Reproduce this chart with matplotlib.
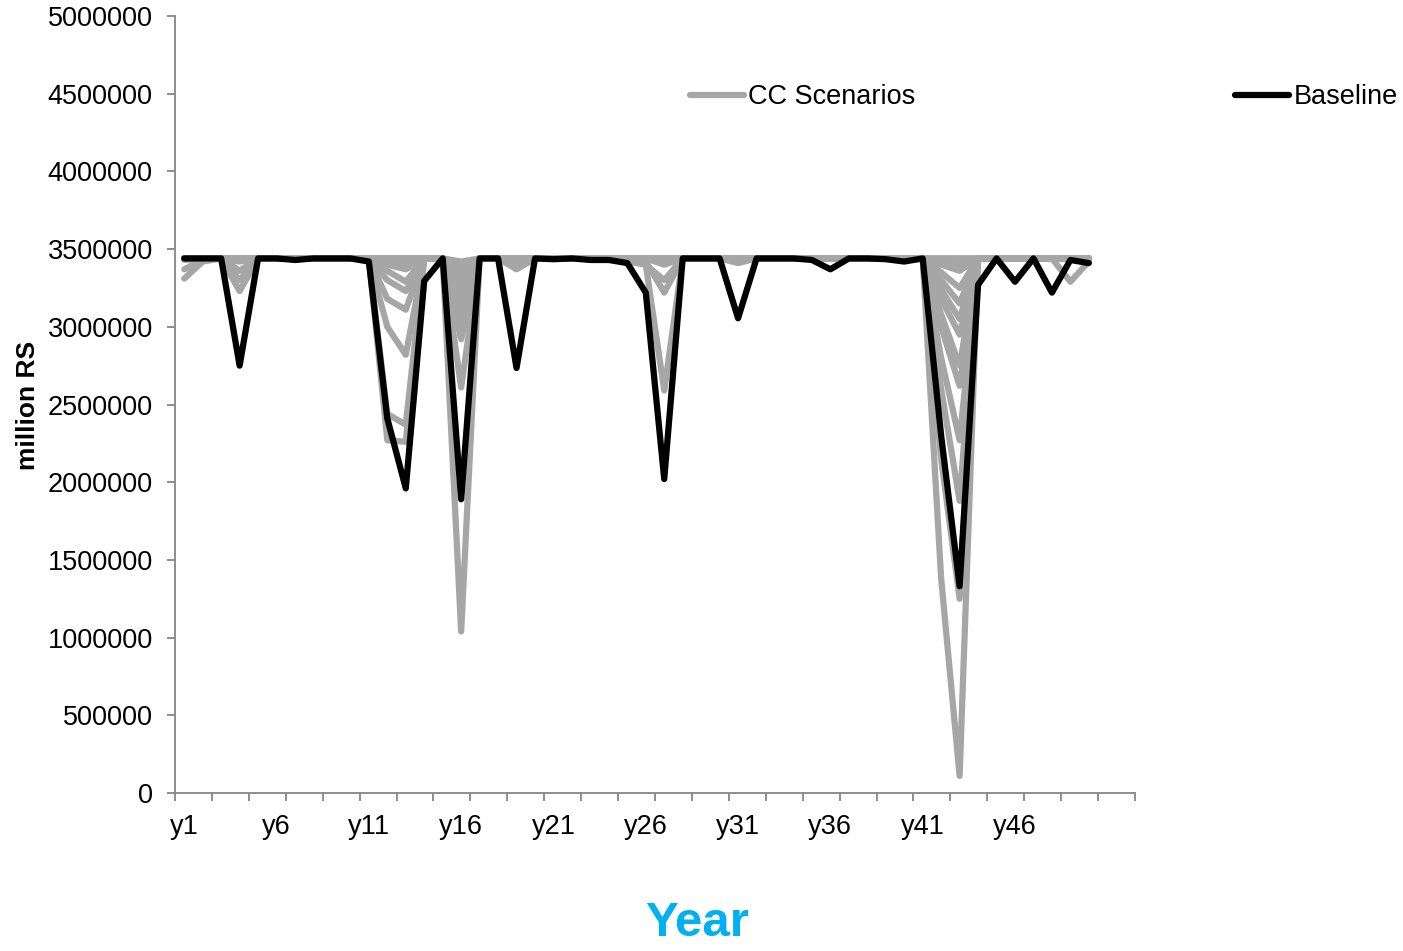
import matplotlib
matplotlib.use("Agg")
import matplotlib.pyplot as plt
from matplotlib.lines import Line2D

plt.rcParams['font.family'] = ['Liberation Sans', 'DejaVu Sans']

years = ["y%d" % i for i in range(1, 51)]
n_categories = 52
tick_label_years = ["y1", "y6", "y11", "y16", "y21", "y26", "y31", "y36", "y41", "y46"]

baseline = [
    3440000, 3440000, 3440000, 2750000, 3440000, 3440000, 3430000, 3440000, 3440000, 3440000,
    3420000, 2410000, 1960000, 3295000, 3440000, 1890000, 3440000, 3440000, 2735000, 3440000,
    3435000, 3440000, 3430000, 3430000, 3410000, 3220000, 2020000, 3440000, 3440000, 3440000,
    3055000, 3440000, 3440000, 3440000, 3430000, 3370000, 3440000, 3440000, 3435000, 3420000,
    3440000, 2300000, 1330000, 3270000, 3440000, 3290000, 3440000, 3220000, 3430000, 3410000,
]

cc_s1 = [
    3440000, 3440000, 3440000, 3440000, 3440000, 3440000, 3440000, 3440000, 3440000, 3440000,
    3440000, 3420000, 3400000, 3440000, 3440000, 3380000, 3440000, 3440000, 3440000, 3440000,
    3440000, 3440000, 3440000, 3440000, 3440000, 3440000, 3440000, 3440000, 3440000, 3440000,
    3440000, 3440000, 3440000, 3440000, 3440000, 3440000, 3440000, 3440000, 3440000, 3440000,
    3440000, 1380000, 110000, 3440000, 3440000, 3440000, 3440000, 3440000, 3440000, 3430000,
]
cc_s2 = [
    3310000, 3420000, 3440000, 3230000, 3440000, 3440000, 3440000, 3440000, 3440000, 3440000,
    3440000, 2270000, 2260000, 3440000, 3440000, 1040000, 3440000, 3440000, 3440000, 3440000,
    3440000, 3440000, 3440000, 3440000, 3430000, 3400000, 3300000, 3440000, 3440000, 3440000,
    3440000, 3440000, 3440000, 3440000, 3440000, 3440000, 3440000, 3440000, 3440000, 3440000,
    3440000, 2150000, 1250000, 3440000, 3440000, 3440000, 3440000, 3440000, 3440000, 3420000,
]
cc_s3 = [
    3370000, 3430000, 3440000, 3300000, 3440000, 3440000, 3440000, 3440000, 3440000, 3440000,
    3440000, 2440000, 2370000, 3440000, 3440000, 2610000, 3440000, 3440000, 3440000, 3440000,
    3440000, 3440000, 3440000, 3440000, 3420000, 3400000, 2590000, 3440000, 3440000, 3440000,
    3440000, 3440000, 3440000, 3440000, 3440000, 3440000, 3440000, 3440000, 3440000, 3440000,
    3440000, 2600000, 1880000, 3440000, 3440000, 3440000, 3440000, 3440000, 3440000, 3440000,
]
cc_s4 = [
    3440000, 3440000, 3440000, 3360000, 3440000, 3440000, 3440000, 3440000, 3440000, 3440000,
    3440000, 3000000, 2820000, 3440000, 3440000, 2920000, 3440000, 3440000, 3370000, 3440000,
    3440000, 3440000, 3440000, 3440000, 3440000, 3420000, 3220000, 3440000, 3440000, 3440000,
    3410000, 3440000, 3440000, 3440000, 3440000, 3440000, 3440000, 3440000, 3440000, 3440000,
    3440000, 2800000, 2270000, 3440000, 3440000, 3440000, 3440000, 3440000, 3440000, 3440000,
]
cc_s5 = [
    3440000, 3440000, 3440000, 3420000, 3440000, 3440000, 3440000, 3440000, 3440000, 3440000,
    3440000, 3180000, 3110000, 3440000, 3440000, 2980000, 3440000, 3440000, 3440000, 3440000,
    3440000, 3440000, 3440000, 3440000, 3440000, 3440000, 3400000, 3440000, 3440000, 3440000,
    3440000, 3440000, 3440000, 3440000, 3440000, 3440000, 3440000, 3440000, 3440000, 3440000,
    3440000, 3000000, 2620000, 3440000, 3440000, 3440000, 3440000, 3440000, 3290000, 3420000,
]
cc_s6 = [
    3440000, 3440000, 3440000, 3440000, 3440000, 3440000, 3440000, 3440000, 3440000, 3440000,
    3440000, 3300000, 3230000, 3440000, 3440000, 3040000, 3440000, 3440000, 3440000, 3440000,
    3440000, 3440000, 3440000, 3440000, 3440000, 3440000, 3440000, 3440000, 3440000, 3440000,
    3440000, 3440000, 3440000, 3440000, 3440000, 3440000, 3440000, 3440000, 3440000, 3440000,
    3440000, 3080000, 2750000, 3440000, 3440000, 3440000, 3440000, 3440000, 3440000, 3440000,
]
cc_s7 = [
    3440000, 3440000, 3440000, 3440000, 3440000, 3440000, 3440000, 3440000, 3440000, 3440000,
    3440000, 3360000, 3290000, 3440000, 3440000, 3100000, 3440000, 3440000, 3400000, 3440000,
    3440000, 3440000, 3440000, 3440000, 3440000, 3440000, 3440000, 3440000, 3440000, 3440000,
    3440000, 3440000, 3440000, 3440000, 3440000, 3440000, 3440000, 3440000, 3440000, 3440000,
    3440000, 3180000, 2950000, 3440000, 3440000, 3440000, 3440000, 3440000, 3440000, 3440000,
]
cc_s8 = [
    3440000, 3440000, 3440000, 3440000, 3440000, 3440000, 3440000, 3440000, 3440000, 3440000,
    3440000, 3400000, 3370000, 3440000, 3440000, 3160000, 3440000, 3440000, 3440000, 3440000,
    3440000, 3440000, 3440000, 3440000, 3440000, 3440000, 3440000, 3440000, 3440000, 3440000,
    3440000, 3440000, 3440000, 3440000, 3440000, 3440000, 3440000, 3440000, 3440000, 3440000,
    3440000, 3240000, 3050000, 3440000, 3440000, 3440000, 3440000, 3440000, 3440000, 3440000,
]
cc_s9 = [
    3440000, 3440000, 3440000, 3440000, 3440000, 3440000, 3440000, 3440000, 3440000, 3440000,
    3440000, 3440000, 3420000, 3440000, 3440000, 3220000, 3440000, 3440000, 3440000, 3440000,
    3440000, 3440000, 3440000, 3440000, 3440000, 3440000, 3440000, 3440000, 3440000, 3440000,
    3440000, 3440000, 3440000, 3440000, 3440000, 3440000, 3440000, 3440000, 3440000, 3440000,
    3440000, 3300000, 3150000, 3440000, 3440000, 3440000, 3440000, 3440000, 3440000, 3440000,
]
cc_s10 = [
    3440000, 3440000, 3440000, 3440000, 3440000, 3440000, 3440000, 3440000, 3440000, 3440000,
    3440000, 3440000, 3440000, 3440000, 3440000, 3280000, 3440000, 3440000, 3440000, 3440000,
    3440000, 3440000, 3440000, 3440000, 3440000, 3440000, 3440000, 3440000, 3440000, 3440000,
    3440000, 3440000, 3440000, 3440000, 3440000, 3440000, 3440000, 3440000, 3440000, 3440000,
    3440000, 3350000, 3250000, 3440000, 3440000, 3440000, 3440000, 3440000, 3440000, 3440000,
]
cc_s11 = [
    3440000, 3440000, 3440000, 3440000, 3440000, 3440000, 3440000, 3440000, 3440000, 3440000,
    3440000, 3440000, 3440000, 3440000, 3440000, 3330000, 3440000, 3440000, 3440000, 3440000,
    3440000, 3440000, 3440000, 3440000, 3440000, 3440000, 3440000, 3440000, 3440000, 3440000,
    3440000, 3440000, 3440000, 3440000, 3440000, 3440000, 3440000, 3440000, 3440000, 3440000,
    3440000, 3400000, 3360000, 3440000, 3440000, 3440000, 3440000, 3440000, 3440000, 3440000,
]
cc_s12 = [
    3440000, 3440000, 3440000, 3440000, 3440000, 3440000, 3440000, 3440000, 3440000, 3440000,
    3440000, 3440000, 3440000, 3440000, 3440000, 3370000, 3440000, 3440000, 3440000, 3440000,
    3440000, 3440000, 3440000, 3440000, 3440000, 3440000, 3440000, 3440000, 3440000, 3440000,
    3440000, 3440000, 3440000, 3440000, 3440000, 3440000, 3440000, 3440000, 3440000, 3440000,
    3440000, 3420000, 3400000, 3440000, 3440000, 3440000, 3440000, 3440000, 3440000, 3440000,
]
cc_s13 = [
    3440000, 3440000, 3440000, 3440000, 3440000, 3440000, 3440000, 3440000, 3440000, 3440000,
    3440000, 3440000, 3440000, 3440000, 3440000, 3400000, 3440000, 3440000, 3440000, 3440000,
    3440000, 3440000, 3440000, 3440000, 3440000, 3440000, 3440000, 3440000, 3440000, 3440000,
    3440000, 3440000, 3440000, 3440000, 3440000, 3440000, 3440000, 3440000, 3440000, 3440000,
    3440000, 3440000, 3440000, 3440000, 3440000, 3440000, 3440000, 3440000, 3440000, 3440000,
]
cc_s14 = [
    3430000, 3440000, 3440000, 3440000, 3440000, 3440000, 3440000, 3440000, 3440000, 3440000,
    3440000, 3440000, 3440000, 3440000, 3440000, 3420000, 3440000, 3440000, 3440000, 3440000,
    3440000, 3440000, 3440000, 3440000, 3420000, 3440000, 3440000, 3440000, 3440000, 3440000,
    3440000, 3440000, 3440000, 3440000, 3440000, 3440000, 3440000, 3440000, 3440000, 3440000,
    3440000, 3440000, 3440000, 3440000, 3440000, 3440000, 3440000, 3440000, 3440000, 3440000,
]
cc_scenarios = [cc_s1, cc_s2, cc_s3, cc_s4, cc_s5, cc_s6, cc_s7, cc_s8,
                cc_s9, cc_s10, cc_s11, cc_s12, cc_s13, cc_s14]

y_ticks = [0, 500000, 1000000, 1500000, 2000000, 2500000, 3000000,
           3500000, 4000000, 4500000, 5000000]

GRAY = "#A6A6A6"
AXIS = "#868686"
LW = 4.5

fig = plt.figure(figsize=(14.03, 9.51), dpi=100)
ax = fig.add_axes([175 / 1403, 1 - 793 / 951, 960 / 1403, 777 / 951])

x = list(range(1, len(years) + 1))
for s in cc_scenarios:
    ax.plot(x, s, color=GRAY, lw=LW, solid_joinstyle="round",
            solid_capstyle="round", zorder=2)
ax.plot(x, baseline, color="black", lw=LW, solid_joinstyle="round",
        solid_capstyle="round", zorder=3)

ax.set_xlim(0.5, n_categories + 0.5)
ax.set_ylim(0, 5000000)

label_pos = [years.index(t) + 1 for t in tick_label_years]
ax.set_xticks(label_pos)
ax.set_xticklabels(tick_label_years)
ax.set_xticks([0.5 + 2 * i for i in range(n_categories // 2 + 1)], minor=True)
ax.tick_params(axis="x", which="major", length=0, pad=15, labelsize=19.5)
ax.tick_params(axis="x", which="minor", length=6, width=1.3, color=AXIS,
               direction="out")

ax.set_yticks(y_ticks)
ax.set_yticklabels([str(v) for v in y_ticks])
ax.tick_params(axis="y", length=6, width=1.3, color=AXIS, direction="out",
               pad=10, labelsize=19.5)

for side in ["top", "right"]:
    ax.spines[side].set_visible(False)
for side in ["left", "bottom"]:
    ax.spines[side].set_color(AXIS)
    ax.spines[side].set_linewidth(1.3)

fig.text(28 / 1403, 1 - 405 / 951, "million RS", rotation=90, ha="center",
         va="center", fontsize=19, fontweight="bold")
fig.text(697 / 1403, 1 - 924 / 951, "Year", ha="center", va="center",
         fontsize=35.5, fontweight="bold", color="#00B0F0")

handles = [Line2D([], [], color=GRAY, lw=LW, solid_capstyle="round"),
           Line2D([], [], color="black", lw=LW, solid_capstyle="round")]
fig.legend(handles, ["CC Scenarios", "Baseline"], loc="center left",
           bbox_to_anchor=(690 / 1403, 1 - 97 / 951), ncol=2, frameon=False,
           fontsize=19.5, handlelength=2.0, handletextpad=0.15,
           columnspacing=11.8, borderpad=0, borderaxespad=0)

fig.savefig("out.png", dpi=100)
